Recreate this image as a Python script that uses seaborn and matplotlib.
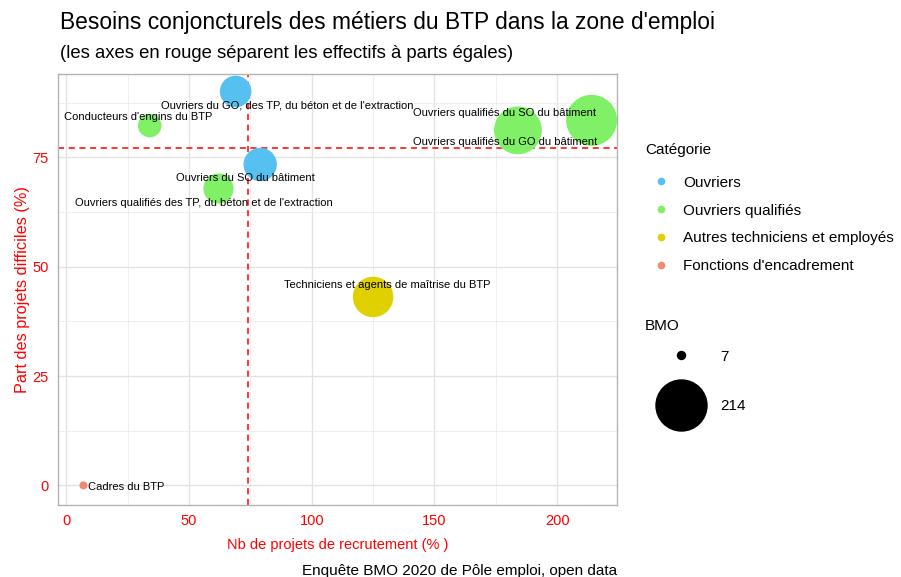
import numpy as np
import pandas as pd
import seaborn as sns
import matplotlib.pyplot as plt
from matplotlib.lines import Line2D
from matplotlib.ticker import MultipleLocator

metiers = ["Ouvriers du GO, des TP, du béton et de l'extraction",
           "Ouvriers du SO du bâtiment",
           "Conducteurs d'engins du BTP",
           "Ouvriers qualifiés des TP, du béton et de l'extraction",
           "Ouvriers qualifiés du SO du bâtiment",
           "Ouvriers qualifiés du GO du bâtiment",
           "Techniciens et agents de maîtrise du BTP",
           "Cadres du BTP"]
categorie = ["Ouvriers", "Ouvriers", "Ouvriers qualifiés", "Ouvriers qualifiés",
             "Ouvriers qualifiés", "Ouvriers qualifiés",
             "Autres techniciens et employés", "Fonctions d'encadrement"]
bmo = [69, 79, 34, 62, 184, 214, 125, 7]
part_difficiles = [90.1, 73.4, 82.3, 67.9, 81.2, 83.5, 43.1, 0.0]
seuil_x = 74
seuil_y = 77.1

cat_order = ["Ouvriers", "Ouvriers qualifiés", "Autres techniciens et employés",
             "Fonctions d'encadrement"]
palette = {"Ouvriers": "#56C1F0", "Ouvriers qualifiés": "#80F066",
           "Autres techniciens et employés": "#E0D000",
           "Fonctions d'encadrement": "#F28A72"}

# decalage des etiquettes (pixels)
decal = {metiers[0]: (52, -14, "center"), metiers[1]: (-15, -14, "center"),
         metiers[2]: (-12, 9, "center"), metiers[3]: (-15, -14, "center"),
         metiers[4]: (-13, 17, "center"), metiers[5]: (-86, -22, "center"),
         metiers[6]: (14, 12, "center"), metiers[7]: (5, -2, "left")}

df = pd.DataFrame({"metier": metiers, "cat": categorie, "BMO": bmo,
                   "part": part_difficiles})

# taille a la ggplot (diametre en px)
vmin, vmax = min(bmo), max(bmo)
def diam(v):
    return 8 + 43 * np.sqrt((v - vmin) / (vmax - vmin))
tailles = {v: (diam(v) * 0.72) ** 2 for v in bmo}

sns.set_style("white")
plt.rcParams['font.family'] = ['Liberation Sans', 'DejaVu Sans']
plt.rcParams['text.color'] = 'black'

fig = plt.figure(figsize=(9.01, 5.77), dpi=100)
ax = fig.add_axes([0.0644, 0.1248, 0.6204, 0.747])

sns.scatterplot(data=df, x="BMO", y="part", hue="cat", hue_order=cat_order,
                palette=palette, size="BMO", sizes=tailles, legend=False,
                linewidth=0, alpha=1, ax=ax, zorder=3)

for m, x, y in zip(metiers, bmo, part_difficiles):
    dx, dy, ha = decal[m]
    ax.annotate(m, (x, y), xytext=(dx, dy), textcoords="offset pixels",
                ha=ha, va="center", fontsize=8, color="black", zorder=4)

ax.axvline(seuil_x, color="red", ls=(0, (4, 3)), lw=1.1, zorder=2)
ax.axhline(seuil_y, color="red", ls=(0, (4, 3)), lw=1.1, zorder=2)

ax.set_xlim(-3.35, 224.35)
ax.set_ylim(-4.48, 94.1)
ax.xaxis.set_major_locator(MultipleLocator(50))
ax.xaxis.set_minor_locator(MultipleLocator(25))
ax.yaxis.set_major_locator(MultipleLocator(25))
ax.yaxis.set_minor_locator(MultipleLocator(12.5))
ax.grid(which="major", color="#E3E3E3", lw=1.0, zorder=0)
ax.grid(which="minor", color="#EDEDED", lw=0.6, zorder=0)
ax.set_axisbelow(True)
for s in ax.spines.values():
    s.set_color("#B3B3B3")
    s.set_linewidth(1.0)
ax.tick_params(which="major", length=3.5, width=0.8, color="#B3B3B3",
               labelsize=10.5, labelcolor="red", pad=3)
ax.tick_params(which="minor", length=0)

ax.set_xlabel("Nb de projets de recrutement (% )", color="red", fontsize=10.5,
              labelpad=7.5)
ax.set_ylabel("Part des projets difficiles (%)", color="red", fontsize=11.7,
              labelpad=2)

fig.text(0.0666, 1 - 22 / 577, "Besoins conjoncturels des métiers du BTP dans la zone d'emploi",
         fontsize=16.4, va="center", ha="left")
fig.text(0.0666, 1 - 53 / 577, "(les axes en rouge séparent les effectifs à parts égales)",
         fontsize=13.3, va="center", ha="left")
fig.text(0.6848, 1 - 571 / 577, "Enquête BMO 2020 de Pôle emploi, open data",
         fontsize=11, va="center", ha="right")

fig.text(645 / 901, 1 - 150 / 577, "Catégorie", fontsize=11, va="center", ha="left")
h_cat = [Line2D([], [], marker="o", ls="", color=palette[c], markersize=4.5) for c in cat_order]
leg1 = fig.legend(h_cat, cat_order, loc="upper left",
                  bbox_to_anchor=(632 / 901, 1 - 162 / 577), frameon=False,
                  fontsize=11, labelspacing=0.9,
                  handletextpad=0.45, alignment="left")

fig.text(645 / 901, 1 - 326 / 577, "BMO", fontsize=11, va="center", ha="left")
h_bmo = [Line2D([], [], marker="o", ls="", color="black", markersize=diam(v) * 0.72)
         for v in [vmin, vmax]]
leg2 = fig.legend(h_bmo, [str(vmin), str(vmax)], loc="upper left",
                  bbox_to_anchor=(650 / 901, 1 - 336 / 577), frameon=False,
                  fontsize=11, labelspacing=2.3,
                  handletextpad=1.5, handlelength=2.2, alignment="left")

fig.savefig("out.png", dpi=100)
